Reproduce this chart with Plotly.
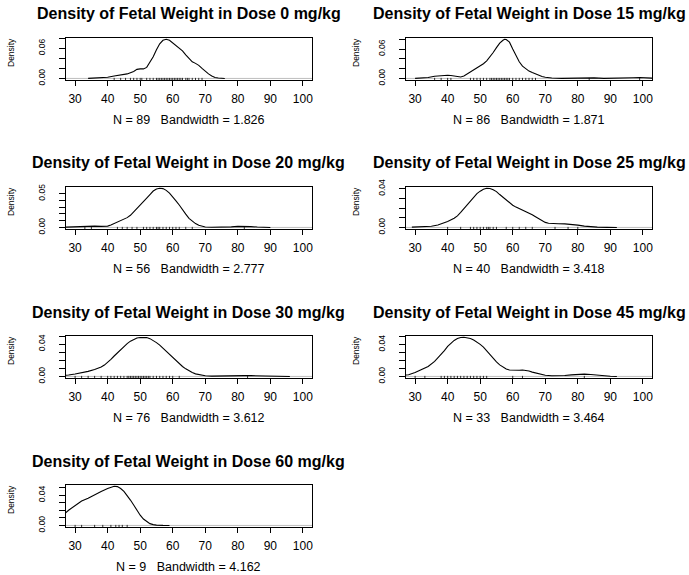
import plotly.graph_objects as go

W, H = 689, 575

# ---------------- data ----------------
doses = ["0", "15", "20", "25", "30", "45", "60"]
n_obs = [89, 86, 56, 40, 76, 33, 9]
bandwidths = ["1.826", "1.871", "2.777", "3.418", "3.612", "3.464", "4.162"]

x_ticks = [30, 40, 50, 60, 70, 80, 90, 100]
x_lim = [30, 100]

dens_x_0 = [34, 36, 38, 40, 42, 44, 46, 48, 49, 50, 51, 52, 53, 54, 55, 56, 57, 58, 59, 60, 61, 62, 63, 64,
            65, 66, 67, 68, 69, 70, 71, 72, 73, 74, 75, 76]
dens_y_0 = [0.0001, 0.0004, 0.0012, 0.0025, 0.005, 0.007, 0.009, 0.014, 0.018, 0.019, 0.019, 0.022, 0.032,
            0.043, 0.057, 0.069, 0.076, 0.078, 0.076, 0.071, 0.066, 0.061, 0.055, 0.047, 0.039, 0.033, 0.030,
            0.026, 0.020, 0.014, 0.009, 0.005, 0.002, 0.0008, 0.0002, 0.0]

dens_x_15 = [30, 32, 34, 36, 38, 40, 41, 42, 43, 44, 45, 46, 47, 48, 49, 50, 51, 52, 53, 54, 55, 56, 57, 57.5,
             58, 59, 60, 61, 62, 63, 64, 65, 66, 67, 68, 69, 70, 72, 75, 78, 81, 83, 85, 88, 92, 95, 97, 99,
             101, 103, 104]
dens_y_15 = [0.0002, 0.0008, 0.002, 0.0045, 0.006, 0.0065, 0.006, 0.005, 0.0035, 0.003, 0.005, 0.009, 0.014,
             0.018, 0.021, 0.025, 0.030, 0.036, 0.044, 0.053, 0.063, 0.072, 0.078, 0.080, 0.0795, 0.074, 0.060,
             0.047, 0.034, 0.025, 0.019, 0.015, 0.012, 0.009, 0.006, 0.004, 0.0025, 0.0008, 0.0002, 0.0003,
             0.0012, 0.0018, 0.0012, 0.0002, 0.0001, 0.0006, 0.0015, 0.0019, 0.0015, 0.0007, 0.0002]

dens_x_20 = [26, 28, 30, 32, 34, 36, 38, 40, 41, 42, 43, 44, 45, 46, 47, 48, 49, 50, 51, 52, 53, 54, 55, 56,
             57, 58, 59, 60, 61, 62, 63, 64, 65, 66, 67, 68, 69, 70, 72, 75, 78, 80, 82, 84, 86, 88, 90]
dens_y_20 = [0.0002, 0.0006, 0.0012, 0.0018, 0.002, 0.0019, 0.0016, 0.002, 0.0036, 0.0057, 0.0083, 0.0109,
             0.013, 0.0145, 0.018, 0.0228, 0.028, 0.0332, 0.0383, 0.0435, 0.0487, 0.0539, 0.057, 0.058, 0.0575,
             0.0549, 0.0508, 0.0456, 0.0394, 0.0332, 0.0259, 0.0197, 0.0135, 0.0093, 0.0057, 0.0031, 0.0016,
             0.0007, 0.0003, 0.0003, 0.0008, 0.0015, 0.0017, 0.0012, 0.0006, 0.0002, 0.0]

dens_x_25 = [29, 31, 33, 35, 37, 39, 40, 42, 43, 44, 45, 46, 47, 48, 49, 50, 51, 52, 53, 54, 55, 56, 57, 58,
             59, 60, 61, 62, 63, 64, 65, 66, 67, 68, 69, 70, 71, 72, 74, 76, 78, 80, 82, 84, 86, 89, 92]
dens_y_25 = [0.0003, 0.0006, 0.0009, 0.0013, 0.0025, 0.0045, 0.0062, 0.0095, 0.012, 0.0155, 0.0195, 0.024,
             0.028, 0.032, 0.035, 0.0375, 0.0395, 0.0405, 0.0403, 0.039, 0.037, 0.034, 0.031, 0.0285, 0.0255,
             0.023, 0.021, 0.0195, 0.018, 0.0165, 0.015, 0.013, 0.011, 0.0088, 0.0068, 0.0052, 0.0043, 0.004,
             0.0038, 0.0037, 0.0032, 0.0024, 0.0014, 0.0007, 0.0003, 0.0001, 0.0]

dens_x_30 = [25, 26, 28, 30, 32, 34, 36, 37, 38, 39, 40, 41, 42, 43, 44, 45, 46, 47, 48, 49, 50, 51, 52, 53,
             54, 55, 56, 57, 58, 59, 60, 61, 62, 63, 64, 65, 66, 67, 68, 69, 70, 72, 75, 78, 80, 82, 84, 86,
             88, 90, 93, 96]
dens_y_30 = [0.0005, 0.0008, 0.0018, 0.003, 0.0045, 0.0063, 0.0086, 0.0099, 0.0116, 0.0141, 0.0174, 0.0212,
             0.0253, 0.0293, 0.0333, 0.0374, 0.0407, 0.0437, 0.046, 0.0475, 0.0483, 0.0485, 0.0481, 0.0468,
             0.0446, 0.0419, 0.0388, 0.0351, 0.0313, 0.0273, 0.023, 0.0192, 0.0157, 0.0123, 0.0094, 0.0069,
             0.0048, 0.0032, 0.0021, 0.0013, 0.0008, 0.0004, 0.0003, 0.0005, 0.0008, 0.001, 0.001, 0.0008,
             0.0005, 0.0003, 0.0001, 0.0]

dens_x_45 = [25, 27, 28, 30, 32, 33, 34, 36, 38, 39, 40, 41, 42, 43, 44, 45, 46, 47, 48, 49, 50, 51, 52, 53,
             54, 55, 56, 57, 58, 59, 60, 61, 62, 63, 64, 65, 66, 67, 68, 69, 70, 72, 74, 76, 78, 80, 82, 84,
             86, 88, 90, 92]
dens_y_45 = [0.0006, 0.001, 0.0021, 0.0049, 0.0087, 0.0105, 0.0125, 0.0188, 0.0271, 0.0323, 0.0375, 0.0417,
             0.045, 0.0474, 0.0487, 0.049, 0.0485, 0.0474, 0.0456, 0.0432, 0.0401, 0.0367, 0.0321, 0.027,
             0.0221, 0.0181, 0.0145, 0.0113, 0.0092, 0.0081, 0.0077, 0.0076, 0.0078, 0.008, 0.0075, 0.0067,
             0.0054, 0.0044, 0.0032, 0.0022, 0.0015, 0.0009, 0.0008, 0.0011, 0.0019, 0.0026, 0.0029, 0.0025,
             0.0015, 0.0006, 0.0002, 0.0]

dens_x_60 = [24, 26, 28, 30, 32, 34, 36, 38, 40, 41, 42, 43, 44, 45, 46, 47, 48, 49, 50, 51, 52, 53, 54, 55,
             57, 59]
dens_y_60 = [0.0074, 0.0127, 0.0202, 0.0265, 0.0324, 0.0361, 0.0408, 0.0451, 0.049, 0.0507, 0.052, 0.0515,
             0.049, 0.0451, 0.0398, 0.0337, 0.0271, 0.0199, 0.0136, 0.0085, 0.0048, 0.0024, 0.0011, 0.0004,
             0.0001, 0.0]

rug_0 = [42, 44, 45.5, 47, 48, 49, 50, 50.5, 52, 53, 54, 55, 55.5, 56, 56.5, 57, 57.5, 58, 58.5, 59, 59.5, 60,
         60.5, 61, 61.5, 62, 62.5, 63, 64, 64.5, 65, 66, 67, 68, 69]
rug_15 = [36, 38, 40, 41, 47, 48, 49, 50, 51, 52, 53, 53.5, 54, 54.5, 55, 55.5, 56, 56.5, 57, 57.5, 58, 58.5,
          59, 60, 61, 62, 63, 64, 65, 66, 67, 83.5, 99]
rug_20 = [33, 35, 43, 44.5, 46, 47.5, 49, 51, 52, 53, 54, 55, 55.5, 56, 57, 58, 59, 60, 61, 62, 64, 66, 82]
rug_25 = [40, 44, 47, 48, 49, 50, 51, 52, 52.5, 53, 54, 55, 58, 60, 62, 64, 66, 73, 77, 80]
rug_30 = [30, 32, 34, 36, 38, 40, 41, 42, 43, 44, 45, 46, 46.5, 47, 47.5, 48, 48.5, 49, 49.5, 50, 50.5, 51,
          51.5, 52, 52.5, 53, 54, 55, 56, 57, 58, 59, 60, 62, 83]
rug_45 = [30, 33, 38, 39, 40, 41, 42, 43, 44, 45, 46, 47, 48, 49, 50, 51, 52, 60, 63, 82]
rug_60 = [30, 32, 36, 38.5, 41, 42.5, 43.5, 44.5, 46]

y_ticks_0 = [0, 0.02, 0.04, 0.06, 0.08]
y_labels_0 = ["0.00", "", "", "0.06", ""]
y_ticks_15 = [0, 0.02, 0.04, 0.06, 0.08]
y_labels_15 = ["0.00", "", "", "0.06", ""]
y_ticks_20 = [0, 0.01, 0.02, 0.03, 0.04, 0.05]
y_labels_20 = ["0.00", "", "", "", "", "0.05"]
y_ticks_25 = [0, 0.01, 0.02, 0.03, 0.04]
y_labels_25 = ["0.00", "", "", "", "0.04"]
y_ticks_30 = [0, 0.01, 0.02, 0.03, 0.04, 0.05]
y_labels_30 = ["0.00", "", "", "", "0.04", ""]
y_ticks_45 = [0, 0.01, 0.02, 0.03, 0.04, 0.05]
y_labels_45 = ["0.00", "", "", "", "0.04", ""]
y_ticks_60 = [0, 0.01, 0.02, 0.03, 0.04, 0.05]
y_labels_60 = ["0.00", "", "", "", "0.04", ""]

panels = [
    (dens_x_0, dens_y_0, rug_0, y_ticks_0, y_labels_0),
    (dens_x_15, dens_y_15, rug_15, y_ticks_15, y_labels_15),
    (dens_x_20, dens_y_20, rug_20, y_ticks_20, y_labels_20),
    (dens_x_25, dens_y_25, rug_25, y_ticks_25, y_labels_25),
    (dens_x_30, dens_y_30, rug_30, y_ticks_30, y_labels_30),
    (dens_x_45, dens_y_45, rug_45, y_ticks_45, y_labels_45),
    (dens_x_60, dens_y_60, rug_60, y_ticks_60, y_labels_60),
]

# ---------------- layout (pixels) ----------------
FONT = "Liberation Sans, Arial, Helvetica, sans-serif"
COLS = [(66, 312), (406, 652)]
ROW_PITCH = 149
BOX_TOP0, BOX_BOT0 = 37.7, 80
TITLE_Y0, XLAB_Y0, YLAB_Y0 = 14, 120, 53
YLAB_X = [11, 356]

def px(x):
    return x / W

def py(y):
    return 1 - y / H

fig = go.Figure()
annotations = []
shapes = []
xpad = 0.04 * (x_lim[1] - x_lim[0])
xrange_ = [x_lim[0] - xpad, x_lim[1] + xpad]

for i, (dx, dy, rug, yt, yl) in enumerate(panels):
    r, c = divmod(i, 2)
    k = "" if i == 0 else str(i + 1)
    x0, x1 = COLS[c]
    top = BOX_TOP0 + ROW_PITCH * r
    bot = BOX_BOT0 + ROW_PITCH * r
    ymax = max(dy)
    yrange_ = [-0.04 * ymax, 1.04 * ymax]

    fig.add_trace(go.Scatter(x=dx, y=dy, mode="lines", line=dict(color="black", width=1.1),
                             xaxis="x" + k, yaxis="y" + k, showlegend=False, hoverinfo="skip"))
    rx, ry = [], []
    h = 0.05 * (yrange_[1] - yrange_[0])
    for v in rug:
        rx += [v, v, None]
        ry += [yrange_[0], yrange_[0] + h, None]
    fig.add_trace(go.Scatter(x=rx, y=ry, mode="lines", line=dict(color="black", width=0.8),
                             xaxis="x" + k, yaxis="y" + k, showlegend=False, hoverinfo="skip"))

    fig.layout["xaxis" + k] = dict(
        domain=[px(x0), px(x1)], anchor="y" + k, range=xrange_, tickvals=x_ticks,
        ticktext=[str(t) for t in x_ticks], ticks="outside", ticklen=5, tickwidth=1, tickcolor="black",
        showline=True, mirror=True, linecolor="black", linewidth=1, showgrid=False, zeroline=False,
        tickfont=dict(family=FONT, size=12, color="black"), ticklabelstandoff=3, fixedrange=True,
        automargin=False)
    fig.layout["yaxis" + k] = dict(
        domain=[py(bot), py(top)], anchor="x" + k, range=yrange_, tickvals=yt, ticktext=yl,
        tickangle=-90, ticks="outside", ticklen=6, tickwidth=1, tickcolor="black",
        showline=True, mirror=True, linecolor="black", linewidth=1, showgrid=False, zeroline=False,
        tickfont=dict(family=FONT, size=8.5, color="black"), ticklabelstandoff=11, fixedrange=True,
        automargin=False)

    shapes.append(dict(type="line", xref="x" + k + " domain", x0=0, x1=1, yref="y" + k, y0=0, y1=0,
                       line=dict(color="#BEBEBE", width=1), layer="below"))

    cx = (x0 + x1) / 2
    annotations.append(dict(text="<b>Density of Fetal Weight in Dose %s mg/kg</b>" % doses[i],
                            xref="paper", yref="paper", x=px(cx), y=py(TITLE_Y0 + ROW_PITCH * r),
                            xanchor="center", yanchor="middle", showarrow=False,
                            font=dict(family=FONT, size=16, color="black")))
    annotations.append(dict(text="N = %d\u00a0\u00a0\u00a0Bandwidth = %s" % (n_obs[i], bandwidths[i]),
                            xref="paper", yref="paper", x=px(cx), y=py(XLAB_Y0 + ROW_PITCH * r),
                            xanchor="center", yanchor="middle", showarrow=False,
                            font=dict(family=FONT, size=12.5, color="black")))
    annotations.append(dict(text="Density", textangle=-90,
                            xref="paper", yref="paper", x=px(YLAB_X[c]), y=py(YLAB_Y0 + ROW_PITCH * r),
                            xanchor="center", yanchor="middle", showarrow=False,
                            font=dict(family=FONT, size=8.5, color="black")))

fig.update_layout(width=W, height=H, margin=dict(l=0, r=0, t=0, b=0, autoexpand=False),
                  paper_bgcolor="white", plot_bgcolor="white",
                  annotations=annotations, shapes=shapes, showlegend=False)

fig.write_html("out.html", config={"displayModeBar": False},
               post_script="document.body.style.margin='0px';document.body.style.overflow='hidden';")
